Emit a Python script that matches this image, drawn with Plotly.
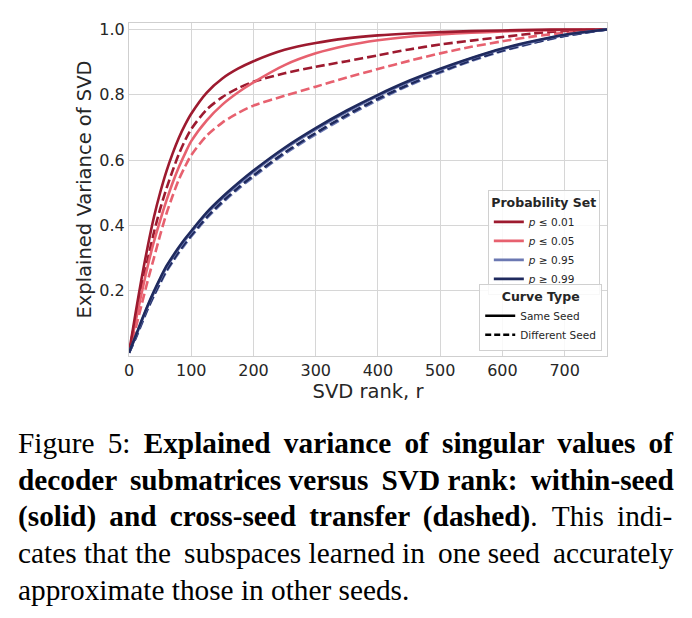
import plotly.graph_objects as go

# ---------------- data ----------------
rank = [0, 10, 20, 30, 40, 50, 60, 70, 80, 90, 100, 125, 150, 175, 200, 250, 300,
        350, 400, 450, 500, 550, 600, 650, 700, 768]

p001_same = [0.01, 0.125, 0.235, 0.335, 0.425, 0.50, 0.565, 0.62, 0.668, 0.708, 0.742, 0.807,
             0.85, 0.88, 0.903, 0.938, 0.959, 0.973, 0.982, 0.988, 0.992, 0.995, 0.997,
             0.999, 1.0, 1.0]
p001_diff = [0.01, 0.11, 0.205, 0.295, 0.378, 0.45, 0.512, 0.567, 0.618, 0.66, 0.695, 0.755,
             0.793, 0.82, 0.84, 0.866, 0.886, 0.903, 0.921, 0.939, 0.954, 0.966, 0.977,
             0.988, 0.996, 1.0]
p005_same = [0.01, 0.10, 0.19, 0.275, 0.35, 0.415, 0.475, 0.53, 0.578, 0.62, 0.658, 0.722,
             0.77, 0.807, 0.838, 0.891, 0.927, 0.951, 0.967, 0.978, 0.985, 0.99, 0.994,
             0.997, 0.999, 1.0]
p005_diff = [0.01, 0.08, 0.155, 0.23, 0.30, 0.37, 0.435, 0.49, 0.54, 0.58, 0.615, 0.675,
             0.715, 0.744, 0.767, 0.797, 0.825, 0.853, 0.879, 0.904, 0.927, 0.947, 0.964,
             0.979, 0.99, 1.0]
p099_same = [0.01, 0.058, 0.108, 0.155, 0.198, 0.238, 0.275, 0.305, 0.333, 0.359, 0.383, 0.44,
             0.487, 0.529, 0.568, 0.638, 0.698, 0.752, 0.80, 0.843, 0.88, 0.913, 0.942,
             0.965, 0.984, 1.0]
p095_same = [0.01, 0.056, 0.105, 0.152, 0.194, 0.234, 0.271, 0.301, 0.329, 0.355, 0.379, 0.436,
             0.483, 0.525, 0.564, 0.634, 0.694, 0.748, 0.797, 0.84, 0.877, 0.911, 0.94,
             0.963, 0.983, 1.0]
p099_diff = [0.01, 0.053, 0.1, 0.146, 0.187, 0.226, 0.262, 0.292, 0.32, 0.346, 0.37, 0.426,
             0.473, 0.515, 0.553, 0.623, 0.683, 0.738, 0.788, 0.832, 0.871, 0.906, 0.936,
             0.96, 0.981, 1.0]
p095_diff = [0.01, 0.051, 0.097, 0.143, 0.184, 0.222, 0.258, 0.288, 0.316, 0.342, 0.366, 0.422,
             0.469, 0.511, 0.549, 0.619, 0.679, 0.734, 0.784, 0.829, 0.868, 0.904, 0.934,
             0.959, 0.98, 1.0]

set_labels = ["<i>p</i> ≤ 0.01", "<i>p</i> ≤ 0.05", "<i>p</i> ≥ 0.95", "<i>p</i> ≥ 0.99"]
set_colors = ["#9d1a2f", "#e7616f", "#6b78b2", "#1f2a5e"]
curve_labels = ["Same Seed", "Different Seed"]

x_ticks = [0, 100, 200, 300, 400, 500, 600, 700]
y_ticks = [0.2, 0.4, 0.6, 0.8, 1.0]

T = "\u2009"  # thin space used to mimic the justified caption lines
caption_lines = [
    f"Figure {T}5: {T}<b>Explained {T}variance {T}of {T}singular {T}values {T}of</b>",
    f"<b>decoder {T}submatrices versus {T}SVD rank: {T}within-seed</b>",
    f"<b>(solid) {T}and {T}cross-seed {T}transfer {T}(dashed)</b>.  This {T}indi-",
    f"cates that the{T} subspaces learned in{T} one seed{T} accurately",
    "approximate those in other seeds.",
]

# ---------------- figure ----------------
fig = go.Figure()
DASH = "9px,4px"
LW = 2.6

series = [
    (p005_diff, 1, True),
    (p001_diff, 0, True),
    (p005_same, 1, False),
    (p001_same, 0, False),
    (p095_diff, 2, True),
    (p099_diff, 3, True),
    (p095_same, 2, False),
    (p099_same, 3, False),
]
for ys, ci, dashed in series:
    fig.add_trace(go.Scatter(
        x=rank, y=ys, mode="lines", showlegend=False, hoverinfo="skip",
        line=dict(color=set_colors[ci], width=LW, dash=DASH if dashed else "solid",
                  shape="spline", smoothing=0.8),
    ))

# legend entries
for lab, col in zip(set_labels, set_colors):
    fig.add_trace(go.Scatter(x=[None], y=[None], mode="lines", name=lab,
                             line=dict(color=col, width=LW), legend="legend"))
for lab, d in zip(curve_labels, ["solid", "6px,3px"]):
    fig.add_trace(go.Scatter(x=[None], y=[None], mode="lines", name=lab,
                             line=dict(color="black", width=LW, dash=d), legend="legend2"))

axis_common = dict(
    showgrid=True, gridcolor="#d6d6d6", gridwidth=1,
    showline=True, linecolor="#cfcfcf", linewidth=1.2, mirror=True,
    zeroline=False, ticks="", tickfont=dict(size=16, color="#262626"),
    title_font=dict(size=19.5, color="#262626"),
)

fig.update_layout(
    width=692, height=618,
    margin=dict(l=129, r=85, t=23, b=262),
    paper_bgcolor="white", plot_bgcolor="white",
    font=dict(family="DejaVu Sans", color="#262626"),
    xaxis=dict(range=[0, 768], tickvals=x_ticks, title_text="SVD rank, r",
               title_standoff=4, **axis_common),
    yaxis=dict(range=[0, 1.02], tickvals=y_ticks, ticktext=[f"{v:.1f}" for v in y_ticks],
               title_text="Explained Variance of SVD", title_standoff=2, **axis_common),
    legend=dict(
        title=dict(text="<b>Probability Set</b>", font=dict(size=12.5, color="#262626"),
                   side="top center"),
        x=0.985, y=0.498, xanchor="right", yanchor="top",
        bgcolor="rgba(255,255,255,0.85)", bordercolor="#d0d0d0", borderwidth=1,
        font=dict(size=10.5, color="#262626"), itemwidth=30, tracegroupgap=0,
    ),
    legend2=dict(
        title=dict(text="<b>Curve Type</b>", font=dict(size=12.5, color="#262626"),
                   side="top center"),
        x=0.99, y=0.216, xanchor="right", yanchor="top",
        bgcolor="rgba(255,255,255,0.85)", bordercolor="#d0d0d0", borderwidth=1,
        font=dict(size=10.5, color="#262626"), itemwidth=30, tracegroupgap=0,
    ),
)

y0 = 443
for i, line in enumerate(caption_lines):
    fig.add_annotation(
        text=line, xref="paper", yref="paper", showarrow=False,
        x=(16 - 129) / 478, y=(356 - (y0 + i * 36.7)) / 333,
        xanchor="left", yanchor="middle",
        font=dict(family="Liberation Serif", size=29.3, color="black"),
    )

fig.write_html("out.html")
